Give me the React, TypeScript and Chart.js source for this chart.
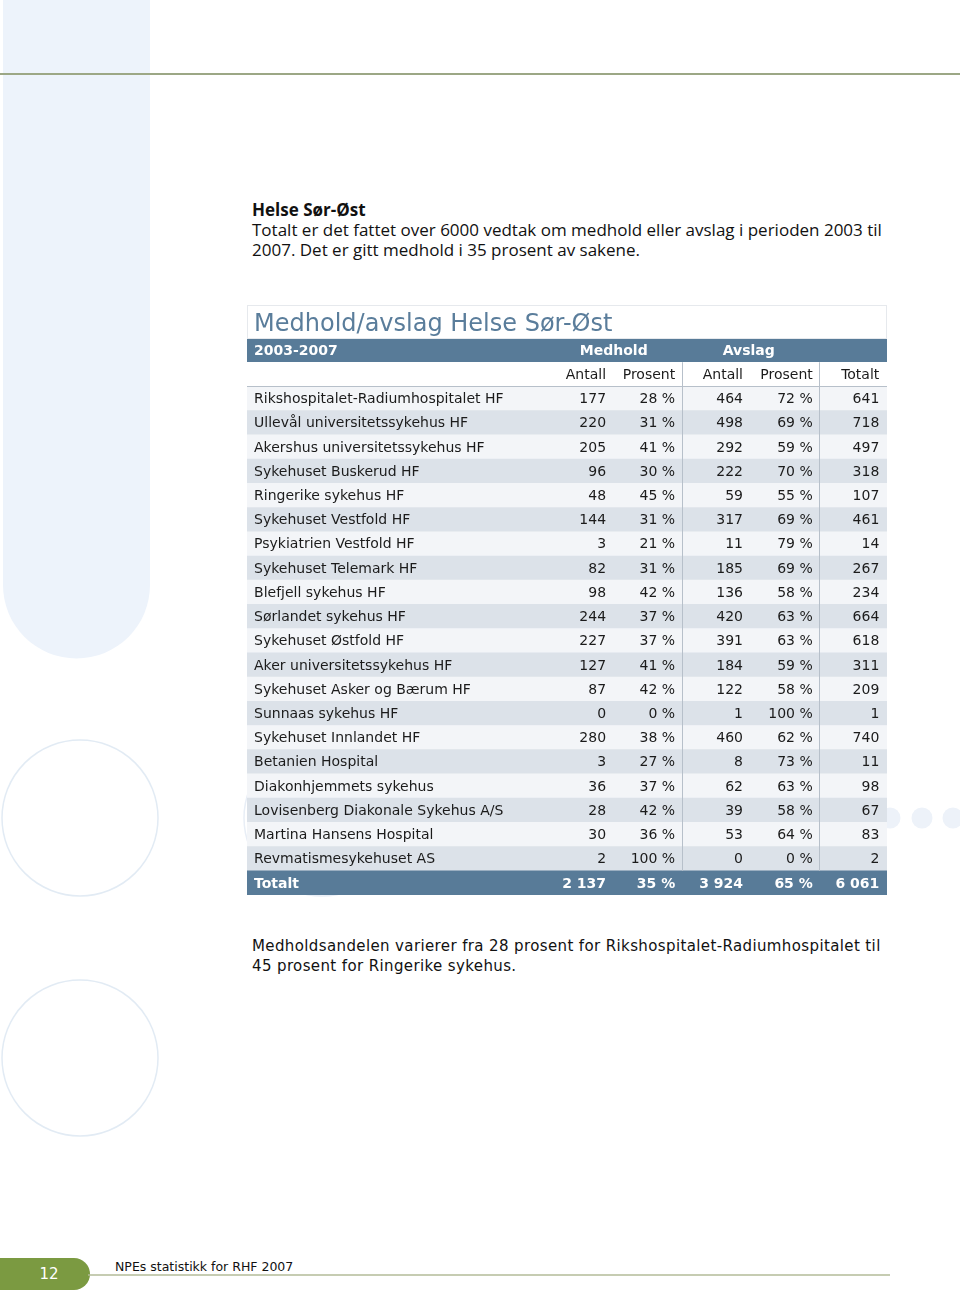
import React, { useEffect, useRef } from "react";
import { Chart, registerables } from "chart.js";

Chart.register(...registerables);

const institutions = [
  "Rikshospitalet-Radiumhospitalet HF",
  "Ullevål universitetssykehus HF",
  "Akershus universitetssykehus HF",
  "Sykehuset Buskerud HF",
  "Ringerike sykehus HF",
  "Sykehuset Vestfold HF",
  "Psykiatrien Vestfold HF",
  "Sykehuset Telemark HF",
  "Blefjell sykehus HF",
  "Sørlandet sykehus HF",
  "Sykehuset Østfold HF",
  "Aker universitetssykehus HF",
  "Sykehuset Asker og Bærum HF",
  "Sunnaas sykehus HF",
  "Sykehuset Innlandet HF",
  "Betanien Hospital",
  "Diakonhjemmets sykehus",
  "Lovisenberg Diakonale Sykehus A/S",
  "Martina Hansens Hospital",
  "Revmatismesykehuset AS",
];
const medholdAntall = [177, 220, 205, 96, 48, 144, 3, 82, 98, 244, 227, 127, 87, 0, 280, 3, 36, 28, 30, 2];
const medholdProsent = [28, 31, 41, 30, 45, 31, 21, 31, 42, 37, 37, 41, 42, 0, 38, 27, 37, 42, 36, 100];
const avslagAntall = [464, 498, 292, 222, 59, 317, 11, 185, 136, 420, 391, 184, 122, 1, 460, 8, 62, 39, 53, 0];
const avslagProsent = [72, 69, 59, 70, 55, 69, 79, 69, 58, 63, 63, 59, 58, 100, 62, 73, 63, 58, 64, 0];
const totalt = [641, 718, 497, 318, 107, 461, 14, 267, 234, 664, 618, 311, 209, 1, 740, 11, 98, 67, 83, 2];
const totalRow = ["2 137", "35 %", "3 924", "65 %", "6 061"];
const tableTitle = "Medhold/avslag Helse Sør-Øst";
const periodLabel = "2003-2007";
const groupLabels = ["Medhold", "Avslag"];
const subHeaders = ["Antall", "Prosent", "Antall", "Prosent", "Totalt"];
const totalLabel = "Totalt";

const rowKeys = ["hdr", "sub", ...institutions, totalLabel];

const fmtN = (n: number) => {
  const s = String(n);
  return s.length > 3 ? s.slice(0, s.length - 3) + " " + s.slice(-3) : s;
};
const fmtP = (n: number) => `${n} %`;

const BLUE = "#587b98";
const LIGHT = "#f3f5f8";
const DARK = "#dce2e9";
const SEP = "#b7c0ca";
const FONT = "'DejaVu Sans', sans-serif";

// column right edges / centers as fractions of the table width (x scale 0..1)
const colRight = [0.561, 0.669, 0.775, 0.884, 0.988];
const groupCenter = [0.573, 0.784];
const sepX = [0.679, 0.893];
const labelLeft = 0.011;

const tablePlugin = {
  id: "tableText",
  afterDatasetsDraw(chart: any) {
    const { ctx, chartArea, scales } = chart;
    const x = scales.x;
    const y = scales.y;
    const rh = y.getPixelForValue(1) - y.getPixelForValue(0);
    ctx.save();
    // title box
    ctx.strokeStyle = "#e6e9ed";
    ctx.lineWidth = 1;
    ctx.strokeRect(chartArea.left + 0.5, 0.5, chartArea.right - chartArea.left - 1, chartArea.top);
    ctx.fillStyle = "#5a7d9b";
    ctx.font = `24px ${FONT}`;
    ctx.textBaseline = "alphabetic";
    ctx.textAlign = "left";
    ctx.fillText(tableTitle, x.getPixelForValue(labelLeft), chartArea.top - 7);

    // separators
    const subTop = y.getPixelForValue(1) - rh / 2;
    const bodyBottom = y.getPixelForValue(rowKeys.length - 2) + rh / 2;
    ctx.strokeStyle = SEP;
    ctx.lineWidth = 1;
    sepX.forEach((f) => {
      const px = Math.round(x.getPixelForValue(f)) + 0.5;
      ctx.beginPath();
      ctx.moveTo(px, subTop);
      ctx.lineTo(px, bodyBottom);
      ctx.stroke();
    });
    const hy = Math.round(y.getPixelForValue(1) + rh / 2) + 0.5;
    ctx.beginPath();
    ctx.moveTo(chartArea.left, hy);
    ctx.lineTo(chartArea.right, hy);
    ctx.stroke();

    ctx.textBaseline = "middle";
    // header row
    const y0 = y.getPixelForValue(0) + 1;
    ctx.fillStyle = "#ffffff";
    ctx.font = `bold 14px ${FONT}`;
    ctx.textAlign = "left";
    ctx.fillText(periodLabel, x.getPixelForValue(labelLeft), y0);
    ctx.textAlign = "center";
    groupLabels.forEach((g, i) => ctx.fillText(g, x.getPixelForValue(groupCenter[i]), y0));

    // sub header
    const y1 = y.getPixelForValue(1) + 1;
    ctx.fillStyle = "#1b1b1b";
    ctx.font = `14px ${FONT}`;
    ctx.textAlign = "right";
    subHeaders.forEach((s, i) => ctx.fillText(s, x.getPixelForValue(colRight[i]), y1));

    // body
    institutions.forEach((name, i) => {
      const py = y.getPixelForValue(i + 2) + 1;
      ctx.textAlign = "left";
      ctx.fillText(name, x.getPixelForValue(labelLeft), py);
      ctx.textAlign = "right";
      const vals = [
        fmtN(medholdAntall[i]),
        fmtP(medholdProsent[i]),
        fmtN(avslagAntall[i]),
        fmtP(avslagProsent[i]),
        fmtN(totalt[i]),
      ];
      vals.forEach((v, j) => ctx.fillText(v, x.getPixelForValue(colRight[j]), py));
    });

    // total row
    const yt = y.getPixelForValue(rowKeys.length - 1) + 1;
    ctx.fillStyle = "#ffffff";
    ctx.font = `bold 14px ${FONT}`;
    ctx.textAlign = "left";
    ctx.fillText(totalLabel, x.getPixelForValue(labelLeft), yt);
    ctx.textAlign = "right";
    totalRow.forEach((v, j) => ctx.fillText(v, x.getPixelForValue(colRight[j]), yt));
    ctx.restore();
  },
};

function TableChart() {
  const ref = useRef<HTMLCanvasElement | null>(null);
  useEffect(() => {
    if (!ref.current) return;
    const colors = rowKeys.map((k, i) => {
      if (i === 0 || i === rowKeys.length - 1) return BLUE;
      if (i === 1) return "#ffffff";
      return (i - 2) % 2 === 0 ? LIGHT : DARK;
    });
    const chart = new Chart(ref.current, {
      type: "bar",
      data: {
        labels: rowKeys,
        datasets: [
          {
            data: rowKeys.map(() => [0, 1]) as any,
            backgroundColor: colors,
            borderWidth: 0,
            barPercentage: 1,
            categoryPercentage: 1,
          },
        ],
      },
      options: {
        indexAxis: "y",
        responsive: false,
        maintainAspectRatio: false,
        animation: false,
        events: [],
        layout: { padding: { top: 33, bottom: 1, left: 0, right: 0 } },
        plugins: { legend: { display: false }, tooltip: { enabled: false }, title: { display: false } },
        scales: {
          x: { type: "linear", min: 0, max: 1, display: false },
          y: { type: "category", display: false, offset: true, grid: { display: false } },
        },
      },
      plugins: [tablePlugin],
    });
    return () => chart.destroy();
  }, []);
  return (
    <canvas
      ref={ref}
      width={640}
      height={591}
      style={{ position: "absolute", left: 247, top: 305, width: 640, height: 591 }}
    />
  );
}

export default function App() {
  const bodyFont = "'Open Sans', 'Noto Sans', sans-serif";
  return (
    <div style={{ position: "absolute", left: 0, top: 0, width: 960, height: 1295, background: "#fff", overflow: "hidden" }}>
      <svg width={960} height={1295} style={{ position: "absolute", left: 0, top: 0 }}>
        <path d="M3 0 H150 V585 A73.5 73.5 0 0 1 3 585 Z" fill="#edf3fb" />
        <line x1={0} y1={74} x2={960} y2={74} stroke="#9ca785" strokeWidth={2} />
        <circle cx={80} cy={818} r={78} fill="none" stroke="#e2ebf4" strokeWidth={1.5} />
        <circle cx={80} cy={1058} r={78} fill="none" stroke="#e2ebf4" strokeWidth={1.5} />
        <circle cx={322} cy={818} r={78} fill="none" stroke="#e8eef6" strokeWidth={1.5} />
        <circle cx={890} cy={818} r={10.5} fill="#edf2f9" />
        <circle cx={922} cy={818} r={10.5} fill="#edf2f9" />
        <circle cx={953} cy={818} r={10.5} fill="#edf2f9" />
        <path d="M0 1258 H74 A16 16 0 0 1 74 1290 H0 Z" fill="#7b9a41" />
        <line x1={88} y1={1275} x2={890} y2={1275} stroke="#b3bb98" strokeWidth={1.5} />
      </svg>
      <div style={{ position: "absolute", left: 252, top: 200, fontFamily: bodyFont, fontSize: 17, lineHeight: "20px", color: "#111", width: 660 }}>
        <div style={{ fontWeight: 700 }}>Helse Sør-Øst</div>
        <div>Totalt er det fattet over 6000 vedtak om medhold eller avslag i perioden 2003 til</div>
        <div>2007. Det er gitt medhold i 35 prosent av sakene.</div>
      </div>
      <TableChart />
      <div style={{ position: "absolute", left: 252, top: 936, fontFamily: FONT, fontSize: 15, letterSpacing: "0.38px", lineHeight: "20px", color: "#111", width: 690 }}>
        <div>Medholdsandelen varierer fra 28 prosent for Rikshospitalet-Radiumhospitalet til</div>
        <div>45 prosent for Ringerike sykehus.</div>
      </div>
      <div style={{ position: "absolute", left: 0, top: 1258, width: 98, height: 32, lineHeight: "32px", textAlign: "center", color: "#fff", fontFamily: FONT, fontSize: 15 }}>12</div>
      <div style={{ position: "absolute", left: 115, top: 1259, fontFamily: FONT, fontSize: 12.5, color: "#111", lineHeight: "16px" }}>NPEs statistikk for RHF 2007</div>
    </div>
  );
}
